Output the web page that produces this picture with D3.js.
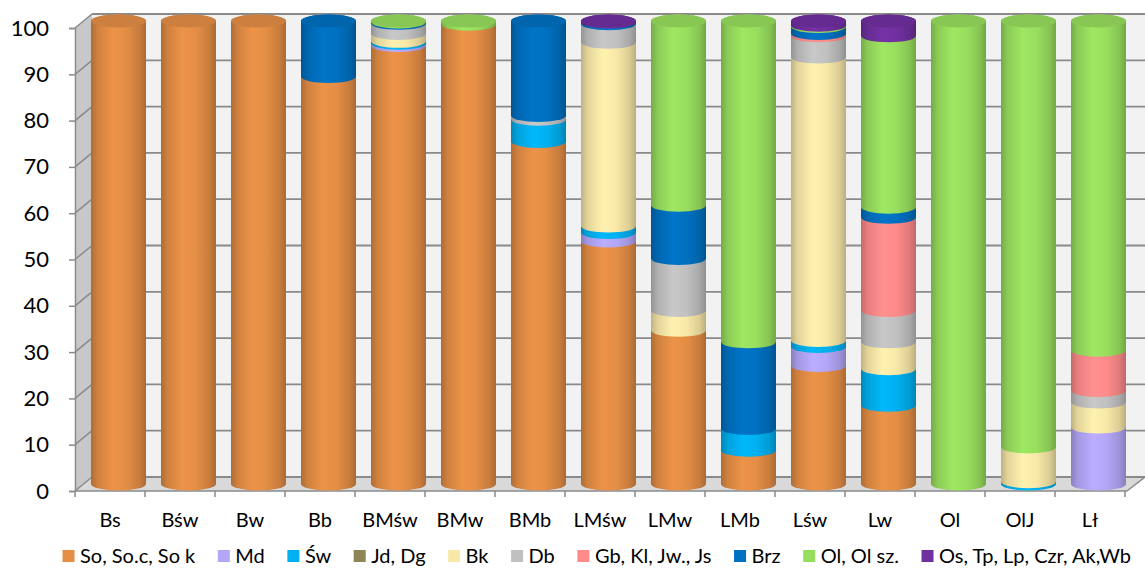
<!DOCTYPE html>
<html><head><meta charset="utf-8">
<script src="https://cdn.jsdelivr.net/npm/d3@7"></script>
<style>body{margin:0;background:#fff;} svg{display:block;font-family:Lato,"Open Sans",sans-serif;}</style>
</head><body><svg id="c" width="1145" height="570"></svg>
<script>
const categories = ["Bs","Bśw","Bw","Bb","BMśw","BMw","BMb","LMśw","LMw","LMb","Lśw","Lw","Ol","OlJ","Lł"];
const seriesNames = ["So, So.c, So k","Md","Św","Jd, Dg","Bk","Db","Gb, Kl, Jw., Js","Brz","Ol, Ol sz.","Os, Tp, Lp, Czr, Ak,Wb"];
const seriesColors = ["#E38D45","#B3A6F7","#00B0F0","#8F8556","#F8E8A8","#C0C0C0","#FF8A8A","#0070C0","#98DE5E","#7030A0"];
const So   = [100,100,100,88,94.7,99.3,74,52.5,33.2,7.3,25.6,17,0,0,0];
const Md   = [0,0,0,0,0.5,0,0,1.8,0,0,4.1,0,0,0,12.3];
const Sw   = [0,0,0,0,0.4,0,4.8,1.4,0,4.7,1.3,7.9,0,0.5,0];
const JdDg = [0,0,0,0,0,0,0,0,0,0,0,0,0,0,0];
const Bk   = [0,0,0,0,1.7,0,0,39.7,4.3,0,61.2,5.8,0,7.5,5.4];
const Db   = [0,0,0,0,2.2,0,0.8,4,11.2,0,4.6,6.8,0,0,2.5];
const Gb   = [0,0,0,0,0,0,0,0,0,0,0.5,20.1,0,0,8.7];
const Brz  = [0,0,0,12,0.3,0,20.4,0.4,11.5,18.7,1.5,2.2,0,0,0];
const Ol   = [0,0,0,0,0.2,0.7,0,0,39.8,69.3,0.3,37,100,92,71.1];
const Os   = [0,0,0,0,0,0,0,0.2,0,0,0.9,3.2,0,0,0];
const yTicks = [0,10,20,30,40,50,60,70,80,90,100];

const seriesValues = [So,Md,Sw,JdDg,Bk,Db,Gb,Brz,Ol,Os];
const rows = categories.map((c,i)=>{const r={cat:c}; seriesNames.forEach((s,k)=>r[s]=seriesValues[k][i]); return r;});
const stack = d3.stack().keys(seriesNames)(rows);

const svg = d3.select("#c");
const gridCol = "#8A8A8A";
// geometry
const xF0=75, xF1=1127, dx=17, dy=14;
const yF = d3.scaleLinear([0,100],[491,28]);
const yB = d3.scaleLinear([0,100],[477,14]);
const yBar = d3.scaleLinear([0,100],[484,21]);
const xFront = d3.scaleBand(categories,[75,1125]);
const xBar = d3.scaleBand(categories,[75+dx/2,1125+dx/2]).paddingInner(0.214).paddingOuter(0.107);
const rx = xBar.bandwidth()/2, ry = 6.5;

// walls
svg.append("rect").attr("x",xF0+dx).attr("y",yB(100)).attr("width",1145-xF0-dx).attr("height",yB(0)-yB(100)).attr("fill","#F2F2F2");
svg.append("polygon").attr("points",[[xF0,yF(100)],[xF0+dx,yB(100)],[xF0+dx,yB(0)],[xF0,yF(0)]].join(" ")).attr("fill","#C8C8C8");
svg.append("polygon").attr("points",[[xF0,yF(0)],[xF0+dx,yB(0)],[1145,yB(0)],[xF1,yF(0)]].join(" ")).attr("fill","#D9D9D9");
// gridlines
const g = svg.append("g");
yTicks.forEach(v=>{
  g.append("line").attr("x1",xF0+dx).attr("x2",1145).attr("y1",yB(v)).attr("y2",yB(v)).attr("stroke",gridCol).attr("stroke-width",1.8);
  g.append("line").attr("x1",xF0).attr("x2",xF0+dx).attr("y1",yF(v)).attr("y2",yB(v)).attr("stroke",gridCol).attr("stroke-width",1.5);
});
svg.append("line").attr("x1",xF1).attr("y1",yF(0)).attr("x2",1145).attr("y2",yB(0)).attr("stroke",gridCol).attr("stroke-width",1.5);

// y axis
const ya = svg.append("g").attr("transform",`translate(${xF0},0)`).call(d3.axisLeft(yF).tickValues(yTicks).tickSize(6).tickPadding(20).tickFormat(d3.format("d")));
ya.select(".domain").attr("stroke",gridCol).attr("stroke-width",1.5);
ya.selectAll(".tick line").attr("stroke",gridCol).attr("stroke-width",1.5);
ya.selectAll("text").attr("font-size",22).attr("fill","#000").attr("font-family","Lato");

// x axis
const xa = svg.append("g").attr("transform",`translate(0,${yF(0)})`).call(d3.axisBottom(xFront).tickSize(0).tickPadding(22));
xa.select(".domain").remove();
xa.selectAll("text").attr("font-size",20).attr("fill","#000").attr("font-family","Lato");
svg.append("line").attr("x1",xF0).attr("x2",xF1).attr("y1",yF(0)).attr("y2",yF(0)).attr("stroke",gridCol).attr("stroke-width",1.5);
categories.concat([null]).forEach((c,i)=>{
  const x = c ? xFront(c) : xFront.range()[1];
  svg.append("line").attr("x1",x).attr("x2",x).attr("y1",yF(0)).attr("y2",yF(0)+6).attr("stroke",gridCol).attr("stroke-width",1.5);
});

// gradients
const defs = svg.append("defs");
seriesColors.forEach((c,k)=>{
  const gr = defs.append("linearGradient").attr("id","gr"+k).attr("x1",0).attr("x2",1).attr("y1",0).attr("y2",0);
  const base = d3.color(c);
  [[0,base.darker(0.75)],[0.12,base.darker(0.25)],[0.4,base.brighter(0.12)],[0.65,base],[0.88,base.darker(0.35)],[1,base.darker(0.8)]]
    .forEach(([o,col])=>gr.append("stop").attr("offset",o).attr("stop-color",col.formatHex()));
});

// bars
const bars = svg.append("g");
categories.forEach((c,i)=>{
  const cx = xBar(c)+rx, l=cx-rx, r=cx+rx;
  let topK=-1, topV=0;
  stack.forEach((s,k)=>{
    const [v0,v1] = s[i];
    if (v1-v0<=0) return;
    const y0=yBar(v0), y1=yBar(v1);
    bars.append("path")
      .attr("d",`M${l},${y1} L${l},${y0} A${rx},${ry} 0 0 0 ${r},${y0} L${r},${y1} A${rx},${ry} 0 0 0 ${l},${y1} Z`)
      .attr("fill",`url(#gr${k})`);
    topK=k; topV=v1;
  });
  if (topK>=0) {
    bars.append("ellipse").attr("cx",cx).attr("cy",yBar(topV)).attr("rx",rx).attr("ry",ry)
      .attr("fill",d3.color(seriesColors[topK]).darker(0.3).formatHex());
  }
});

// legend
const lg = svg.append("g");
const items = seriesNames.map((s,k)=>{
  const it = lg.append("g");
  it.append("rect").attr("width",12).attr("height",12).attr("y",550).attr("fill",seriesColors[k]);
  const t = it.append("text").attr("x",17.5).attr("y",556).attr("dy","0.35em").attr("font-size",20).attr("font-family","Lato").text(s);
  return {it, w: t.node().getComputedTextLength()};
});
const startX=62.5, endX=1131;
const total = d3.sum(items,d=>17.5+d.w);
const gap = (endX-startX-total)/(items.length-1);
let x=startX;
items.forEach(d=>{d.it.attr("transform",`translate(${x},0)`); x+=17.5+d.w+gap;});
</script></body></html>
